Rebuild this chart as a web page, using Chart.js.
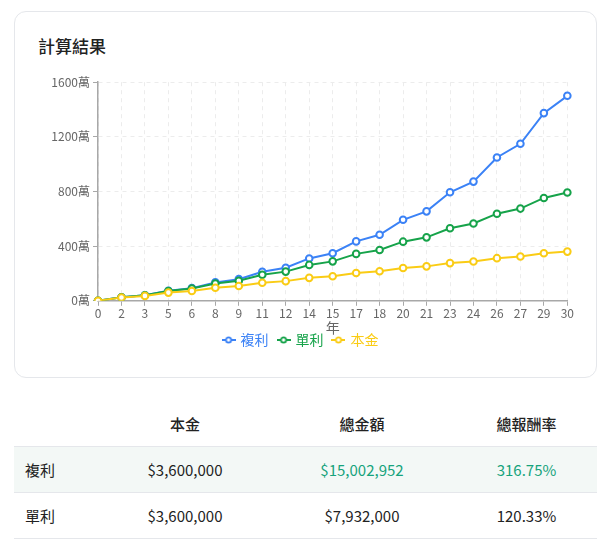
<!DOCTYPE html>
<html>
<head>
<meta charset="utf-8">
<script src="https://cdn.jsdelivr.net/npm/chart.js@4.4.1/dist/chart.umd.min.js"></script>
<style>
html,body{margin:0;padding:0;background:#fff;}
body{width:614px;height:548px;position:relative;overflow:hidden;font-family:"Noto Sans CJK TC","Noto Sans",sans-serif;color:#222;}
.card{position:absolute;left:14px;top:11px;width:583px;height:367px;box-sizing:border-box;border:1px solid #e5e7eb;border-radius:12px;background:#fff;}
.title{position:absolute;left:38px;top:35px;font-size:17px;line-height:22px;font-weight:500;color:#222;}
.chartbox{position:absolute;left:28px;top:72px;width:546px;height:285px;}
table{position:absolute;left:14px;top:400px;width:583px;border-collapse:collapse;table-layout:fixed;font-size:15px;}
th{font-weight:500;height:46px;text-align:center;border-bottom:1px solid #e5e7eb;padding:0;}
td{height:45px;text-align:center;border-bottom:1px solid #e5e7eb;padding:0;}
td.lbl{text-align:left;padding-left:11px;}
tr.hl td{background:#f3f8f6;}
.green{color:#16a37c;}
</style>
</head>
<body>
<div class="card"></div>
<div class="title">計算結果</div>
<div class="chartbox"><canvas id="c"></canvas></div>
<table>
<colgroup><col style="width:82px"><col style="width:178px"><col style="width:176px"><col style="width:147px"></colgroup>
<thead><tr><th></th><th>本金</th><th>總金額</th><th style="padding-left:6px">總報酬率</th></tr></thead>
<tbody>
<tr class="hl"><td class="lbl">複利</td><td>$3,600,000</td><td class="green">$15,002,952</td><td class="green" style="padding-left:6px">316.75%</td></tr>
<tr><td class="lbl">單利</td><td>$3,600,000</td><td>$7,932,000</td><td style="padding-left:6px">120.33%</td></tr>
</tbody>
</table>
<script>
// Year labels (x-axis categories)
const years = ['0','2','3','5','6','8','9','11','12','14','15','17','18','20','21','23','24','26','27','29','30'];
// Values in 萬
const compound = [0, 26.11, 40.81, 73.97, 92.64, 134.76, 158.48, 211.98, 242.11, 310.08, 348.35, 434.68, 483.29, 592.95, 654.69, 793.99, 872.42, 1049.36, 1148.99, 1373.74, 1500.30];
const simple = [0, 26.0, 40.44, 72.2, 89.52, 127.04, 147.24, 190.52, 213.6, 262.64, 288.6, 343.4, 372.24, 432.8, 464.52, 530.84, 565.44, 637.52, 675.0, 752.84, 793.2];
const principal = [0, 24, 36, 60, 72, 96, 108, 132, 144, 168, 180, 204, 216, 240, 252, 276, 288, 312, 324, 348, 360];
const seriesNames = ['複利', '單利', '本金'];
const yTicks = [0, 400, 800, 1200, 1600];

const colors = ['#3b82f6', '#16a34a', '#facc15'];

function legendIcon(color){
  const c = document.createElement('canvas');
  c.width = 14; c.height = 8;
  const g = c.getContext('2d');
  g.strokeStyle = color; g.lineWidth = 2;
  g.beginPath(); g.moveTo(0,4); g.lineTo(14,4); g.stroke();
  g.beginPath(); g.arc(7,4,2.6,0,Math.PI*2); g.fillStyle='#fff'; g.fill(); g.lineWidth=1.8; g.stroke();
  return c;
}
const icons = colors.map(legendIcon);

function ds(label, data, color, order){
  return {
    label, data, borderColor: color, backgroundColor: color,
    borderWidth: 2, pointRadius: 3.3, pointHoverRadius: 4,
    pointBackgroundColor: '#fff', pointBorderColor: color, pointBorderWidth: 2,
    tension: 0, fill: false, order
  };
}

const gridCommon = { color: '#ececec', tickColor: '#a8a8a8', tickLength: 5, lineWidth: 1 };
const FONT = '"Noto Sans CJK TC","Noto Sans",sans-serif';

new Chart(document.getElementById('c'), {
  type: 'line',
  data: {
    labels: years,
    datasets: [
      ds(seriesNames[0], compound, colors[0], 3),
      ds(seriesNames[1], simple, colors[1], 2),
      ds(seriesNames[2], principal, colors[2], 1)
    ]
  },
  options: {
    responsive: true,
    maintainAspectRatio: false,
    animation: false,
    layout: { padding: { left: 0, right: 0, top: 0, bottom: 0 } },
    plugins: {
      tooltip: { enabled: false },
      legend: {
        position: 'bottom',
        labels: {
          usePointStyle: true,
          pointStyleWidth: 10,
          padding: 10,
          font: { size: 14, family: FONT },
          sort: (a, b) => a.datasetIndex - b.datasetIndex,
          generateLabels: (chart) => {
            const items = Chart.defaults.plugins.legend.labels.generateLabels(chart);
            items.forEach(it => {
              it.pointStyle = icons[it.datasetIndex];
              it.fontColor = colors[it.datasetIndex];
            });
            return items;
          }
        }
      }
    },
    scales: {
      x: {
        grid: gridCommon,
        border: { color: '#a8a8a8', width: 1.5, dash: [4, 4] },
        ticks: { color: '#666', autoSkip: false, maxRotation: 0, padding: 0,
          font: { size: 12, family: FONT } },
        title: { display: true, text: '年', color: '#666',
          font: { size: 14, family: FONT },
          padding: { top: -1, bottom: -13 } }
      },
      y: {
        min: yTicks[0], max: yTicks[yTicks.length - 1],
        afterBuildTicks: (scale) => { scale.ticks = yTicks.map(v => ({ value: v })); },
        afterFit: (scale) => { scale.width = 70; },
        grid: gridCommon,
        border: { color: '#a8a8a8', width: 1.5, dash: [4, 4] },
        ticks: { color: '#666', padding: 3, callback: (v) => v + '萬',
          font: { size: 12, family: FONT } }
      }
    }
  }
});
</script>
</body>
</html>
